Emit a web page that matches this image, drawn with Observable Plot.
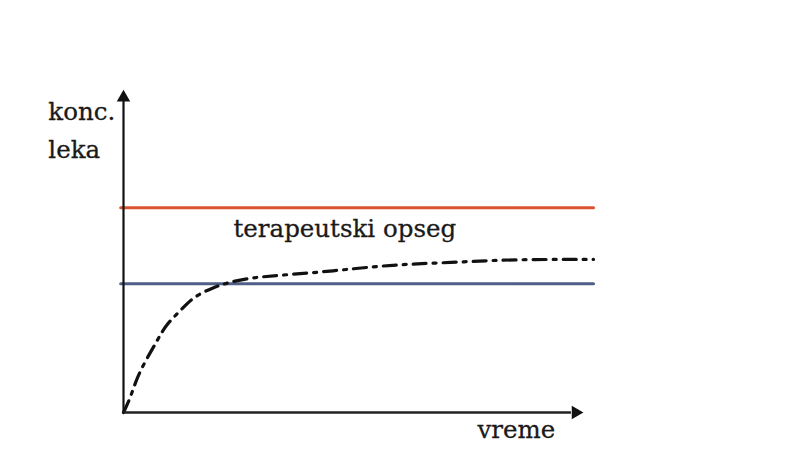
<!DOCTYPE html>
<html>
<head>
<meta charset="utf-8">
<script src="https://cdn.jsdelivr.net/npm/d3@7"></script>
<script src="https://cdn.jsdelivr.net/npm/@observablehq/plot@0.6"></script>
<style>
  html, body { margin: 0; padding: 0; background: #ffffff; }
  #chart { width: 795px; height: 470px; }
</style>
</head>
<body>
<div id="chart"></div>
<script>
// Time (arbitrary units) and drug concentration (arbitrary units)
const timeRange = [-0.06, 10];
const maxTherapeutic = 8;     // upper limit of therapeutic range
const minTherapeutic = 5.03;  // lower limit of therapeutic range

// Concentration curve
const curveTime = [0, 0.15, 0.28, 0.47, 0.72, 0.89, 1.21, 1.49, 1.91, 2.23, 2.70, 3.55, 4.47, 5.32, 6.11, 6.96, 7.81, 8.66, 10];
const curveConc = [0, 0.59, 1.33, 2.03, 2.81, 3.40, 3.98, 4.53, 4.88, 5.08, 5.27, 5.39, 5.53, 5.70, 5.80, 5.86, 5.94, 5.98, 5.98];

// Axis extents
const xAxisEnd = 9.72;
const yAxisEnd = 12.5;

// Labels
const yLabel = "konc.\nleka";
const xLabel = "vreme";
const rangeLabel = "terapeutski opseg";

const curve = curveTime.map((t, i) => ({t, c: curveConc[i]}));
const upper = timeRange.map(t => ({t, c: maxTherapeutic}));
const lower = timeRange.map(t => ({t, c: minTherapeutic}));

const font = "DejaVu Serif";

const chart = Plot.plot({
  width: 795,
  height: 470,
  marginLeft: 123,
  marginRight: 202,
  marginTop: 92,
  marginBottom: 58,
  x: {domain: [0, 10], axis: null},
  y: {domain: [0, 12.5], axis: null},
  style: {background: "transparent", overflow: "visible"},
  marks: [
    Plot.line(upper, {x: "t", y: "c", stroke: "#d9532e", strokeWidth: 3}),
    Plot.line(lower, {x: "t", y: "c", stroke: "#4f5f88", strokeWidth: 3}),
    Plot.line(curve, {x: "t", y: "c", stroke: "#111", strokeWidth: 3.2, curve: "basis", strokeDasharray: "13,7,3,7"}),
    // axes
    Plot.link([{x1: 0, y1: 0, x2: 0, y2: yAxisEnd - 0.3}], {x1: "x1", y1: "y1", x2: "x2", y2: "y2", stroke: "#111", strokeWidth: 2.2}),
    Plot.link([{x1: 0, y1: 0, x2: xAxisEnd - 0.2, y2: 0}], {x1: "x1", y1: "y1", x2: "x2", y2: "y2", stroke: "#222", strokeWidth: 2.5}),
    Plot.dot([{x: 0, y: yAxisEnd - 0.2}], {x: "x", y: "y", symbol: "triangle", r: 5, fill: "#111", stroke: null}),
    Plot.dot([{x: xAxisEnd - 0.1, y: 0}], {x: "x", y: "y", symbol: "triangle", r: 5, fill: "#111", stroke: null, rotate: 90}),
    // labels
    Plot.text([yLabel], {x: -1.6, y: 11.17, text: d => d, textAnchor: "start", lineAnchor: "middle", lineHeight: 1.55, fontSize: 24.5, fontFamily: font, fill: "#1a1a1a", stroke: "#1a1a1a", strokeWidth: 0.3}),
    Plot.text([rangeLabel], {x: 2.34, y: 7.18, text: d => d, textAnchor: "start", lineAnchor: "middle", fontSize: 24.5, fontFamily: font, fill: "#1a1a1a", stroke: "#1a1a1a", strokeWidth: 0.3}),
    Plot.text([xLabel], {x: 8.36, y: -0.68, text: d => d, textAnchor: "middle", lineAnchor: "middle", fontSize: 24.5, fontFamily: font, fill: "#1a1a1a", stroke: "#1a1a1a", strokeWidth: 0.3})
  ]
});
document.getElementById("chart").appendChild(chart);
</script>
</body>
</html>
